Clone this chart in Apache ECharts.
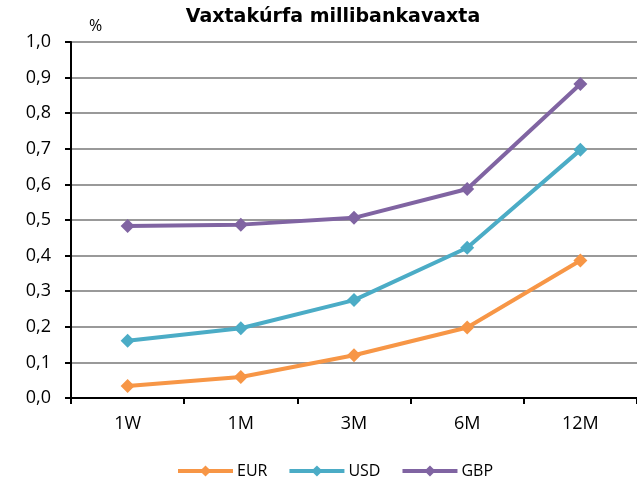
<!DOCTYPE html>
<html><head><meta charset="utf-8">
<script src="https://cdn.jsdelivr.net/npm/echarts@6/dist/echarts.min.js"></script>
<style>html,body{margin:0;padding:0;background:#fff}#c{width:637px;height:482px}</style>
</head><body><div id="c"></div>
<script>
const categories = ['1W','1M','3M','6M','12M'];
const eur = [0.034, 0.059, 0.120, 0.198, 0.386];
const usd = [0.161, 0.196, 0.275, 0.422, 0.697];
const gbp = [0.483, 0.487, 0.506, 0.587, 0.882];
const FONT = '"Open Sans", sans-serif';
const chart = echarts.init(document.getElementById('c'));
function s(name, data, color){
  return {name, type:'line', data, color, symbol:'diamond', symbolSize:14,
    lineStyle:{width:4,color}, itemStyle:{color}, animation:false};
}
chart.setOption({
  animation:false,
  title:{text:'Vaxtakúrfa millibankavaxta', left:328, textAlign:'center', top:3,
    textStyle:{fontFamily:'"DejaVu Sans", sans-serif', fontWeight:'bold', fontSize:19, color:'#000'}},
  graphic:[{type:'text', left:89, top:18, style:{text:'%', font:'16px '+FONT, fill:'#000'}}],
  grid:{left:71, right:-5, top:42, bottom:84},
  legend:{top:458, left:171, itemWidth:55, itemHeight:14, itemGap:20,
    lineStyle:{width:4},
    textStyle:{fontFamily:FONT, fontSize:16, color:'#000', padding:[0,0,0,-1]},
    data:['EUR','USD','GBP']},
  xAxis:{type:'category', data:categories, boundaryGap:true,
    axisLine:{lineStyle:{color:'#000', width:2}},
    axisTick:{show:true, length:6, alignWithLabel:false, lineStyle:{color:'#000', width:2}},
    axisLabel:{fontFamily:FONT, fontSize:18, color:'#000', margin:17}},
  yAxis:{type:'value', min:0, max:1, interval:0.1,
    axisLine:{show:true, lineStyle:{color:'#000', width:2}},
    axisTick:{show:true, length:6, lineStyle:{color:'#000', width:2}},
    splitLine:{lineStyle:{color:'#999', width:2}},
    axisLabel:{fontFamily:FONT, fontSize:18, color:'#000', margin:20,
      formatter:v=>v.toFixed(1).replace('.',',')}},
  series:[s('EUR',eur,'#F79646'), s('USD',usd,'#4BACC6'), s('GBP',gbp,'#8064A2')]
});
</script></body></html>
